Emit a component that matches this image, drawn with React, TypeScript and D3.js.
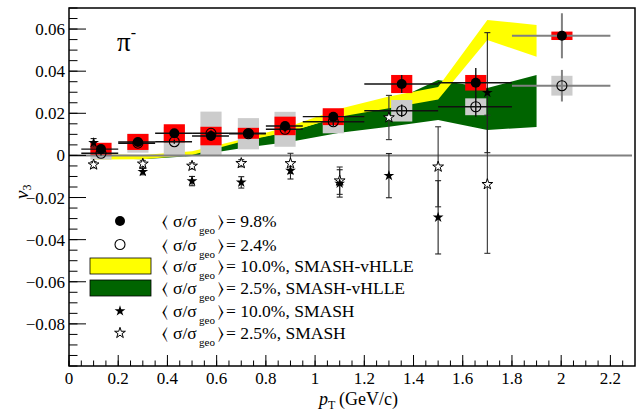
import React from 'react';
import * as d3 from 'd3';

// bins of the measured points (pT)
const binLo = [0.05, 0.2, 0.35, 0.5, 0.65, 0.8, 0.95, 1.2, 1.5, 1.8];
const binHi = [0.2, 0.35, 0.5, 0.65, 0.8, 0.95, 1.2, 1.5, 1.8, 2.2];
const ptData = [0.13, 0.28, 0.428, 0.577, 0.729, 0.878, 1.074, 1.352, 1.653, 2.003];

// <sigma/sigma_geo> = 9.8 %
const v3Filled = [0.003, 0.0064, 0.0105, 0.0092, 0.0105, 0.014, 0.0184, 0.0339, 0.0345, 0.0568];
const statFilled = [0.001, 0.001, 0.001, 0.001, 0.001, 0.0015, 0.0015, 0.0043, 0.007, 0.0107];
const sysFilled = [0.003, 0.0038, 0.0043, 0.0044, 0.0026, 0.0044, 0.004, 0.0043, 0.0037, 0.002];

// <sigma/sigma_geo> = 2.4 %
const v3Open = [0.001, 0.0058, 0.0065, 0.0105, 0.0103, 0.0124, 0.016, 0.0212, 0.0231, 0.0331];
const statOpen = [0.001, 0.001, 0.001, 0.0015, 0.0015, 0.0015, 0.002, 0.003, 0.0048, 0.0075];
const sysOpen = [0.003, 0.0045, 0.007, 0.0103, 0.0074, 0.0083, 0.0055, 0.0051, 0.004, 0.0047];

// SMASH-vHLLE bands
const ptBand = [0.1, 0.3, 0.5, 0.7, 0.9, 1.1, 1.3, 1.5, 1.7, 1.9];
const yellowHi = [0.0005, 0.0002, 0.002, 0.0076, 0.014, 0.0222, 0.028, 0.0325, 0.0643, 0.0619];
const yellowLo = [-0.002, -0.0018, 0.0002, 0.0065, 0.0113, 0.0183, 0.0224, 0.0266, 0.0548, 0.0469];
const greenHi = [0.0, -0.0003, 0.0015, 0.0068, 0.0115, 0.0185, 0.025, 0.0358, 0.032, 0.0382];
const greenLo = [-0.0012, -0.0018, -0.0003, 0.0034, 0.0065, 0.0108, 0.0136, 0.0168, 0.0121, 0.0135];

// SMASH (stars)
const ptStar = [0.1, 0.3, 0.5, 0.7, 0.9, 1.1, 1.3, 1.5, 1.7];
const v3StarFilled = [0.006, -0.0077, -0.0122, -0.0128, -0.0072, -0.0133, -0.0096, -0.0294, 0.0298];
const errStarFilled = [0.002, 0.0015, 0.0022, 0.0027, 0.004, 0.0065, 0.0105, 0.0174, 0.0285];
const v3StarOpen = [-0.0044, -0.004, -0.005, -0.0037, -0.0038, -0.012, 0.018, -0.0054, -0.0137];
const errStarOpen = [0.0015, 0.0015, 0.0015, 0.0017, 0.0048, 0.0065, 0.0105, 0.019, 0.0328];

const xTicks = [0, 0.2, 0.4, 0.6, 0.8, 1, 1.2, 1.4, 1.6, 1.8, 2, 2.2];
const xTickLabels = ['0', '0.2', '0.4', '0.6', '0.8', '1', '1.2', '1.4', '1.6', '1.8', '2', '2.2'];
const yTicks = [-0.08, -0.06, -0.04, -0.02, 0, 0.02, 0.04, 0.06];
const yTickLabels = ['\u22120.08', '\u22120.06', '\u22120.04', '\u22120.02', '0', '0.02', '0.04', '0.06'];

const legendValues = ['= 9.8%', '= 2.4%', '= 10.0%, SMASH-vHLLE', '= 2.5%, SMASH-vHLLE', '= 10.0%, SMASH', '= 2.5%, SMASH'];

const W = 643;
const H = 413;
const frame = { left: 69, right: 635, top: 8, bottom: 366 };
const font = "'Liberation Serif', 'Times New Roman', Tinos, 'Noto Serif', FreeSerif, 'DejaVu Serif', serif";
const boxHalf = 0.043;

const x = d3.scaleLinear().domain([0, 2.3]).range([frame.left, frame.right]);
const y = d3.scaleLinear().domain([-0.1, 0.07]).range([frame.bottom, frame.top]);

const band = (lo: number[], hi: number[]) =>
  d3
    .area<number>()
    .x((d) => x(d))
    .y0((d, i) => y(lo[i]))
    .y1((d, i) => y(hi[i]))(ptBand) as string;

const starPath = d3.symbol(d3.symbolStar, 36)() as string;

const App = () => {
  const xMinor = d3.range(0, 47).map((i) => i * 0.05).filter((v) => v < 2.3);
  const yMinor = d3.range(-20, 15).map((i) => i * 0.005);
  const legendRows = [221, 244.5, 266, 288, 311, 333];

  const errBar = (px: number, v: number, e: number, key: string, color = '#222') => (
    <g key={key} stroke={color} strokeWidth={1.1}>
      <line x1={x(px)} x2={x(px)} y1={y(v - e)} y2={y(v + e)} />
      <line x1={x(px) - 3} x2={x(px) + 3} y1={y(v - e)} y2={y(v - e)} />
      <line x1={x(px) - 3} x2={x(px) + 3} y1={y(v + e)} y2={y(v + e)} />
    </g>
  );

  return (
    <svg width={W} height={H} style={{ position: 'absolute', left: 0, top: 0 }}>
      <rect width={W} height={H} fill="#fff" />

      {/* model bands */}
      <path d={band(greenLo, greenHi)} fill="#006400" />
      <path d={band(yellowLo, yellowHi)} fill="#ffff00" />

      {/* systematic boxes */}
      {ptData.map((p, i) => (
        <rect key={'go' + i} x={x(p - boxHalf)} width={x(p + boxHalf) - x(p - boxHalf)}
          y={y(v3Open[i] + sysOpen[i])} height={y(v3Open[i] - sysOpen[i]) - y(v3Open[i] + sysOpen[i])}
          fill="#cccccc" />
      ))}
      {ptData.map((p, i) => (
        <rect key={'rf' + i} x={x(p - boxHalf)} width={x(p + boxHalf) - x(p - boxHalf)}
          y={y(v3Filled[i] + sysFilled[i])} height={y(v3Filled[i] - sysFilled[i]) - y(v3Filled[i] + sysFilled[i])}
          fill="#ff0000" />
      ))}

      {/* zero line */}
      <line x1={frame.left} x2={frame.right - 3} y1={y(0)} y2={y(0)} stroke="#808080" strokeWidth={2} />

      {/* stars */}
      {ptStar.map((p, i) => errBar(p, v3StarOpen[i], errStarOpen[i], 'eo' + i, '#333'))}
      {ptStar.map((p, i) => errBar(p, v3StarFilled[i], errStarFilled[i], 'ef' + i, '#222'))}
      {ptStar.map((p, i) => (
        <path key={'so' + i} d={starPath} transform={`translate(${x(p)},${y(v3StarOpen[i])})`}
          fill="#fff" stroke="#000" strokeWidth={1} />
      ))}
      {ptStar.map((p, i) => (
        <path key={'sf' + i} d={starPath} transform={`translate(${x(p)},${y(v3StarFilled[i])})`} fill="#000" />
      ))}

      {/* data points: bin bars and stat errors */}
      {ptData.map((p, i) => {
        const c = i === ptData.length - 1 ? '#808080' : '#111';
        const w = i === ptData.length - 1 ? 2 : 1.4;
        return (
          <g key={'bars' + i} stroke={c} strokeWidth={w}>
            <line x1={x(binLo[i])} x2={x(binHi[i])} y1={y(v3Open[i])} y2={y(v3Open[i])} />
            <line x1={x(p)} x2={x(p)} y1={y(v3Open[i] - statOpen[i])} y2={y(v3Open[i] + statOpen[i])} />
            <line x1={x(binLo[i])} x2={x(binHi[i])} y1={y(v3Filled[i])} y2={y(v3Filled[i])} />
            <line x1={x(p)} x2={x(p)} y1={y(v3Filled[i] - statFilled[i])} y2={y(v3Filled[i] + statFilled[i])} />
          </g>
        );
      })}
      {ptData.map((p, i) => (
        <circle key={'co' + i} cx={x(p)} cy={y(v3Open[i])} r={5} fill="none" stroke="#000" strokeWidth={1.1} />
      ))}
      {ptData.map((p, i) => (
        <circle key={'cf' + i} cx={x(p)} cy={y(v3Filled[i])} r={5} fill="#000" />
      ))}

      {/* frame */}
      <rect x={frame.left} y={frame.top} width={frame.right - frame.left} height={frame.bottom - frame.top}
        fill="none" stroke="#000" strokeWidth={1.5} />

      {/* x axis */}
      {xMinor.map((v, i) => (
        <line key={'xm' + i} x1={x(v)} x2={x(v)} y1={frame.bottom} y2={frame.bottom - 5.5} stroke="#000" />
      ))}
      {xTicks.map((v, i) => (
        <g key={'xt' + i}>
          <line x1={x(v)} x2={x(v)} y1={frame.bottom} y2={frame.bottom - 11} stroke="#000" />
          <text x={x(v)} y={384} textAnchor="middle" fontSize={17} fontFamily={font}>{xTickLabels[i]}</text>
        </g>
      ))}

      {/* y axis */}
      {yMinor.map((v, i) => (
        <line key={'ym' + i} x1={frame.left} x2={frame.left + 8.5} y1={y(v)} y2={y(v)} stroke="#000" />
      ))}
      {yTicks.map((v, i) => (
        <g key={'yt' + i}>
          <line x1={frame.left} x2={frame.left + 17} y1={y(v)} y2={y(v)} stroke="#000" />
          <text x={65} y={y(v) + 6} textAnchor="end" fontSize={17} fontFamily={font}>{yTickLabels[i]}</text>
        </g>
      ))}

      {/* axis titles */}
      <text x={319} y={405} fontSize={18} fontFamily={font}>
        <tspan fontStyle="italic">p</tspan>
        <tspan fontSize={12} dy={4}>T</tspan>
        <tspan dy={-4} x={339}>(GeV/c)</tspan>
      </text>
      <text transform="translate(28,199) rotate(-90)" fontSize={19} fontFamily={font}>
        <tspan fontStyle="italic">v</tspan>
        <tspan fontSize={12} dy={3}>3</tspan>
      </text>

      {/* particle label */}
      <text x={117} y={51} fontSize={27} fontFamily={font}>
        {'\u03c0'}
        <tspan fontSize={16} dy={-13}>-</tspan>
      </text>

      {/* legend */}
      <circle cx={120} cy={legendRows[0]} r={5} fill="#000" />
      <circle cx={120} cy={legendRows[1]} r={5} fill="none" stroke="#000" strokeWidth={1.1} />
      <rect x={90} y={legendRows[2] - 8} width={61} height={16} fill="#ffff00" stroke="#000" strokeWidth={0.8} />
      <rect x={90} y={legendRows[3] - 8} width={61} height={16} fill="#006400" stroke="#000" strokeWidth={0.8} />
      <path d={starPath} transform={`translate(120,${legendRows[4]})`} fill="#000" />
      <path d={starPath} transform={`translate(120,${legendRows[5]})`} fill="#fff" stroke="#000" />
      {legendValues.map((t, i) => (
        <text key={'lg' + i} y={legendRows[i] + 6} fontSize={17.5} fontFamily={font}>
          <tspan x={162}>{'\u27e8'}</tspan>
          <tspan x={173}>{'\u03c3/\u03c3'}</tspan>
          <tspan x={199} dy={7} fontSize={11}>geo</tspan>
          <tspan x={218} dy={-7}>{'\u27e9'}</tspan>
          <tspan x={226}>{t}</tspan>
        </text>
      ))}
    </svg>
  );
};

export default App;
